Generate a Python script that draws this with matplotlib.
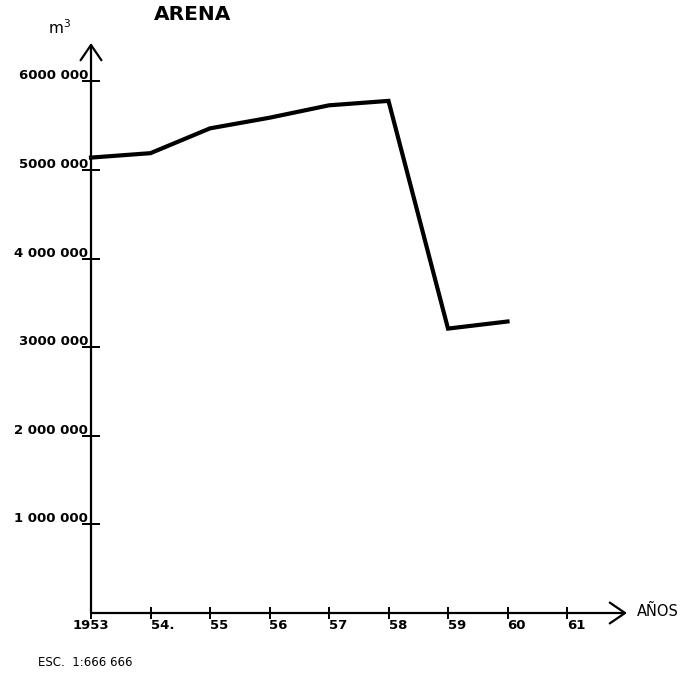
import matplotlib
matplotlib.use("Agg")
import matplotlib.pyplot as plt
from matplotlib.transforms import offset_copy, blended_transform_factory

# Sand volume per year (m³)
years = [1953, 1954, 1955, 1956, 1957, 1958, 1959, 1960]
volume = [5140000, 5190000, 5470000, 5590000, 5730000, 5780000, 3210000, 3290000]

ytick_values = [1000000, 2000000, 3000000, 4000000, 5000000, 6000000]
ytick_labels = ["1 000 000", "2 000 000", "3000 000", "4 000 000", "5000 000", "6000 000"]
xtick_values = [1953, 1954, 1955, 1956, 1957, 1958, 1959, 1960, 1961]
xtick_labels = ["1953", "54.", "55", "56", "57", "58", "59", "60", "61"]

W, H = 689, 680
fig = plt.figure(figsize=(W / 100, H / 100), dpi=100)

# axes placed so the origin sits at (91, 613) px and the axis arrows end at the edges
x0_px, y0_px = 91, 613
px_per_year = 59.5
px_per_m = 88.6 / 1e6
xmax_px, ymax_px = 627, 43
ax = fig.add_axes([x0_px / W, (H - y0_px) / H,
                   (xmax_px - x0_px) / W, (y0_px - ymax_px) / H])
ax.set_xlim(1953, 1953 + (xmax_px - x0_px) / px_per_year)
ax.set_ylim(0, (y0_px - ymax_px) / px_per_m)
ax.axis("off")

xl = ax.get_xlim()
yl = ax.get_ylim()

# axes with open arrowheads
arrow = dict(arrowstyle="->,head_length=1.1,head_width=0.75", lw=1.6, color="black",
             shrinkA=0, shrinkB=0)
ax.annotate("", xy=(1953, yl[1]), xytext=(1953, 0), arrowprops=arrow, annotation_clip=False)
ax.annotate("", xy=(xl[1], 0), xytext=(1953, 0), arrowprops=arrow, annotation_clip=False)

# y ticks crossing the axis, labels sitting on the tick line
ax.plot([1953] * len(ytick_values), ytick_values, linestyle="none", marker="_",
        markersize=13, markeredgewidth=1.4, color="black", clip_on=False)
ylab_tr = offset_copy(ax.transData, fig=fig, x=-3, y=-1, units="dots")
for v, lab in zip(ytick_values, ytick_labels):
    ax.text(1953, v, lab, transform=ylab_tr, ha="right", va="bottom",
            fontsize=9.5, fontweight="bold", family="DejaVu Sans", color="black")

# x ticks crossing the axis, labels below and right of the tick
ax.plot(xtick_values, [0] * len(xtick_values), linestyle="none", marker="|",
        markersize=9, markeredgewidth=1.4, color="black", clip_on=False)
xlab_tr = offset_copy(ax.transData, fig=fig, x=0, y=-6, units="dots")
for v, lab in zip(xtick_values, xtick_labels):
    ha = "center" if v == 1953 else "left"
    ax.text(v, 0, lab, transform=xlab_tr, ha=ha, va="top",
            fontsize=9.5, fontweight="bold", family="DejaVu Sans", color="black")

# data line
ax.plot(years, volume, color="black", lw=3.0, solid_joinstyle="miter", clip_on=False)

# titles and annotations
fig.text(193 / W, 1 - 15 / H, "ARENA", ha="center", va="center",
         fontsize=14.5, fontweight="bold", family="DejaVu Sans")
fig.text(48 / W, 1 - 28 / H, "m$^3$", ha="left", va="center",
         fontsize=11, family="DejaVu Sans")
fig.text(637 / W, 1 - 611 / H, "AÑOS", ha="left", va="center",
         fontsize=10.5, family="DejaVu Sans")
fig.text(38 / W, 1 - 663 / H, "ESC.  1:666 666", ha="left", va="center",
         fontsize=8.5, family="DejaVu Sans")

fig.savefig("out.png", dpi=100, facecolor="white")
